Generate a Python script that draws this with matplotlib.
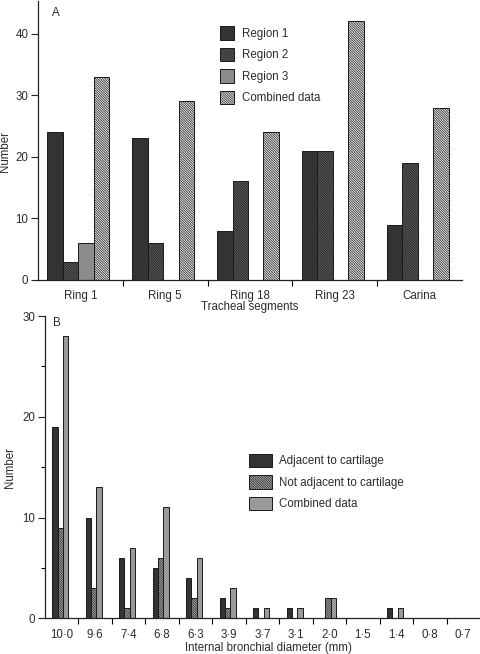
import numpy as np
import matplotlib
matplotlib.use("Agg")
import matplotlib.pyplot as plt

# === data: panel A (tracheal segments) ===
segments = ["Ring 1", "Ring 5", "Ring 18", "Ring 23", "Carina"]
region1 = [24, 23, 8, 21, 9]
region2 = [3, 6, 16, 21, 19]
region3 = [6, 0, 0, 0, 0]
combined_a = [33, 29, 24, 42, 28]

# === data: panel B (internal bronchial diameter) ===
diameters = ["10·0", "9·6", "7·4", "6·8", "6·3", "3·9", "3·7",
             "3·1", "2·0", "1·5", "1·4", "0·8", "0·7"]
adjacent = [19, 10, 6, 5, 4, 2, 1, 1, 0, 0, 1, 0, 0]
not_adjacent = [9, 3, 1, 6, 2, 1, 0, 0, 2, 0, 0, 0, 0]
combined_b = [28, 13, 7, 11, 6, 3, 1, 1, 2, 0, 1, 0, 0]

plt.rcParams["font.family"] = ["Liberation Sans", "DejaVu Sans"]
plt.rcParams["font.size"] = 8.3
plt.rcParams["hatch.linewidth"] = 0.5
txt = "#2b2b2b"
dense = "\\" * 14

W, H = 481, 654
fig = plt.figure(figsize=(W / 100, H / 100), dpi=100)

def frac(x0, y0, x1, y1):
    # pixel box -> figure fraction
    return [x0 / W, 1 - y1 / H, (x1 - x0) / W, (y1 - y0) / H]

def fpos(px, py):
    return (px / W, 1 - py / H)

def style_axes(ax):
    for s in ["top", "right"]:
        ax.spines[s].set_visible(False)
    for s in ["left", "bottom"]:
        ax.spines[s].set_linewidth(0.9)
        ax.spines[s].set_color("#222222")
    ax.tick_params(axis="both", colors="#222222", labelcolor=txt, direction="out")

# === panel A ===
axA = fig.add_axes(frac(38, 1, 462, 280))
x = np.arange(len(segments))
w = 0.182
kw = dict(width=w, edgecolor="#1a1a1a", linewidth=0.7)
b1 = axA.bar(x - 0.297, region1, color="#333333", label="Region 1", **kw)
b2 = axA.bar(x - 0.115, region2, color="#606060", hatch=dense, label="Region 2", **kw)
b3 = axA.bar(x + 0.068, region3, color="#8c8c8c", label="Region 3", **kw)
b4 = axA.bar(x + 0.25, combined_a, color="#ececec", hatch=dense, label="Combined data", **kw)

axA.set_xlim(-0.5, 4.5)
axA.set_ylim(0, 45.3)
axA.set_yticks([0, 10, 20, 30, 40])
axA.set_xticks(x)
axA.set_xticklabels(segments)
axA.set_xticks(x[:-1] + 0.5, minor=True)
axA.tick_params(axis="x", which="major", length=0, pad=7)
axA.tick_params(axis="x", which="minor", length=4, width=0.8)
axA.tick_params(axis="y", length=5, width=0.8, pad=2)
style_axes(axA)
fig.text(*fpos(56, 13), "A", color=txt, ha="center", va="center")
axA.legend(handles=[b1, b2, b3, b4], loc="upper left", frameon=False,
           bbox_to_anchor=fpos(220, 26), bbox_transform=fig.transFigure,
           borderpad=0, borderaxespad=0, handlelength=1.22, handleheight=1.45,
           labelspacing=0.68, handletextpad=0.7, labelcolor=txt)
fig.text(*fpos(250, 307), "Tracheal segments", ha="center", va="center", color=txt)
fig.text(*fpos(5, 152), "Number", rotation=90, ha="center", va="center", color=txt)

# === panel B ===
axB = fig.add_axes(frac(44.8, 316, 480, 618.3))
xb = np.arange(len(diameters))
wb = 0.16
kwb = dict(width=wb, edgecolor="#1a1a1a", linewidth=0.7)
c1 = axB.bar(xb - 0.2, adjacent, color="#333333", label="Adjacent to cartilage", **kwb)
c2 = axB.bar(xb - 0.04, not_adjacent, color="#b0b0b0", hatch=dense,
             label="Not adjacent to cartilage", **kwb)
c3 = axB.bar(xb + 0.12, combined_b, color="#9a9a9a", label="Combined data", **kwb)

axB.set_xlim(-0.5, 12.5)
axB.set_ylim(0, 30)
axB.set_yticks([0, 10, 20, 30])
axB.set_yticks([5, 15, 25], minor=True)
axB.set_xticks(xb)
axB.set_xticklabels(diameters)
axB.set_xticks(xb[:-1] + 0.5, minor=True)
axB.tick_params(axis="x", which="major", length=0, pad=8)
axB.tick_params(axis="x", which="minor", length=4, width=0.8)
axB.tick_params(axis="y", which="major", length=5, width=0.8, pad=2)
axB.tick_params(axis="y", which="minor", length=3, width=0.8)
style_axes(axB)
fig.text(*fpos(57, 323), "B", color=txt, ha="center", va="center")
axB.legend(handles=[c1, c2, c3], loc="upper left", frameon=False,
           bbox_to_anchor=fpos(249.3, 454), bbox_transform=fig.transFigure,
           borderpad=0, borderaxespad=0, handlelength=1.95, handleheight=1.4,
           labelspacing=0.68, handletextpad=0.66, labelcolor=txt)
fig.text(*fpos(268, 648), "Internal bronchial diameter (mm)", ha="center", va="center", color=txt)
fig.text(*fpos(10, 468), "Number", rotation=90, ha="center", va="center", color=txt)

fig.savefig("out.png", dpi=100)
